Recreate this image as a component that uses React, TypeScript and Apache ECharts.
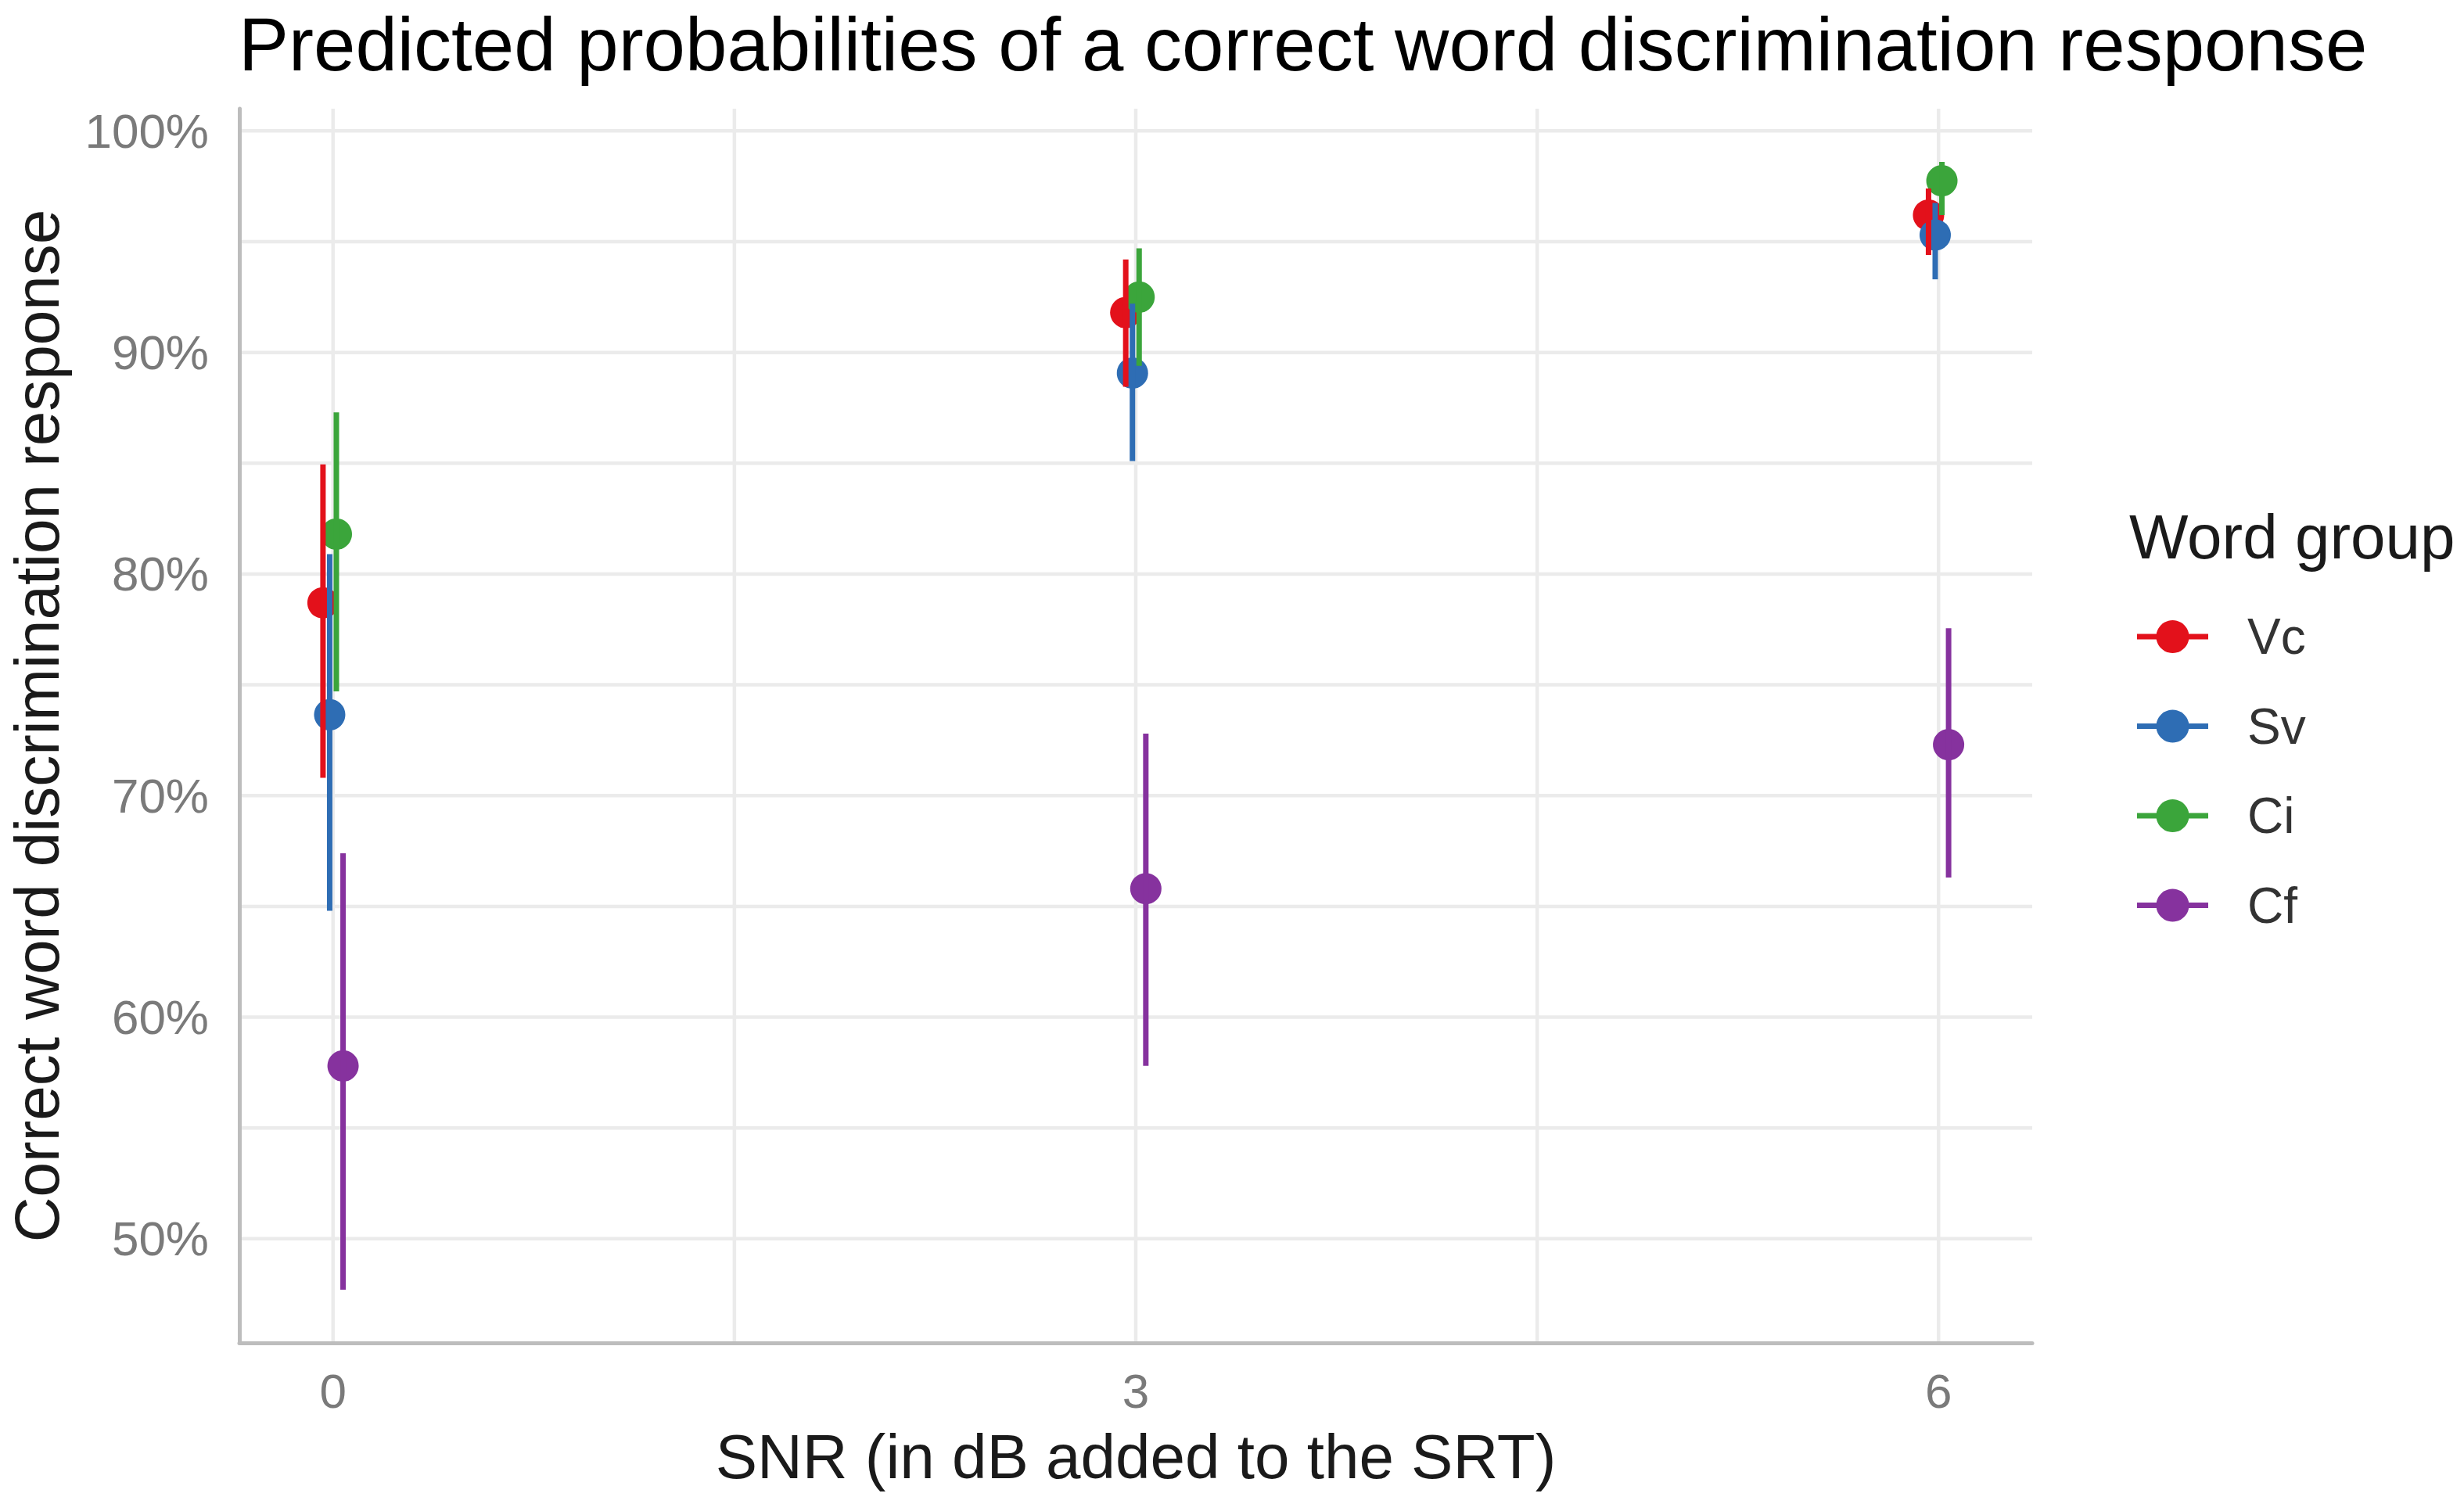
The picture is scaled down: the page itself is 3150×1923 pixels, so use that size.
import React, { useEffect, useRef } from "react";
import * as echarts from "echarts";

// ---- data ----
const snrLevels = [0, 3, 6];
const groupNames = ["Vc", "Sv", "Ci", "Cf"];
const groupColors = ["#E3111B", "#2E6DB4", "#3BA53B", "#86329E"];

const vcMean = [78.7, 91.8, 96.2];
const vcLow = [70.8, 88.45, 94.4];
const vcHigh = [84.95, 94.2, 97.4];

const svMean = [73.65, 89.07, 95.3];
const svLow = [64.8, 85.1, 93.3];
const svHigh = [80.9, 92.2, 96.75];

const ciMean = [81.8, 92.5, 97.75];
const ciLow = [74.7, 89.4, 96.2];
const ciHigh = [87.3, 94.7, 98.6];

const cfMean = [57.8, 65.8, 72.3];
const cfLow = [47.7, 57.8, 66.3];
const cfHigh = [67.4, 72.8, 77.55];

const yMajorTicks = [50, 60, 70, 80, 90, 100];
const yMinorTicks = [55, 65, 75, 85, 95];
const xMajorTicks = [0, 3, 6];
const xMinorTicks = [1.5, 4.5];

const titleText = "Predicted probabilities of a correct word discrimination response";
const xTitle = "SNR (in dB added to the SRT)";
const yTitle = "Correct word discrimination response";
const legendTitle = "Word group";

const dodgeWidth = 0.1;

const means = [vcMean, svMean, ciMean, cfMean];
const lows = [vcLow, svLow, ciLow, cfLow];
const highs = [vcHigh, svHigh, ciHigh, cfHigh];

const FONT = '"Liberation Sans", Arial, Helvetica, sans-serif';

function dodgeOffset(i: number, n: number) {
  return (i - (n - 1) / 2) * (dodgeWidth / n);
}

export default function App() {
  const ref = useRef<HTMLDivElement>(null);

  useEffect(() => {
    if (!ref.current) return;
    const chart = echarts.init(ref.current, null, { renderer: "svg" });
    const n = groupNames.length;

    const gridColor = "#EBEBEB";

    const hGridSeries = {
      type: "custom",
      silent: true,
      z: 1,
      clip: false,
      data: [...yMajorTicks, ...yMinorTicks].map((v) => [0, v]),
      encode: { x: 0, y: 1 },
      renderItem: (params: any, api: any) => {
        const cs = params.coordSys;
        const y = api.coord([0, api.value(1)])[1];
        return {
          type: "line",
          shape: { x1: cs.x, y1: y, x2: cs.x + cs.width, y2: y },
          style: { stroke: gridColor, lineWidth: 4.5 },
        };
      },
    };

    const vGridSeries = {
      type: "custom",
      silent: true,
      z: 1,
      clip: false,
      data: [...xMajorTicks, ...xMinorTicks].map((v) => [v, 50]),
      encode: { x: 0, y: 1 },
      renderItem: (params: any, api: any) => {
        const cs = params.coordSys;
        const x = api.coord([api.value(0), 50])[0];
        return {
          type: "line",
          shape: { x1: x, y1: cs.y, x2: x, y2: cs.y + cs.height },
          style: { stroke: gridColor, lineWidth: 4.5 },
        };
      },
    };

    const pointSeries = groupNames.map((name, gi) => ({
      type: "scatter",
      name,
      silent: true,
      z: 2,
      symbol: "circle",
      symbolSize: 40,
      itemStyle: { color: groupColors[gi], opacity: 1 },
      data: snrLevels.map((x, i) => [x + dodgeOffset(gi, n), means[gi][i]]),
    }));

    const rangeSeries = groupNames.map((name, gi) => ({
      type: "custom",
      name: name + " interval",
      silent: true,
      z: 3,
      data: snrLevels.map((x, i) => [x + dodgeOffset(gi, n), lows[gi][i], highs[gi][i]]),
      encode: { x: 0, y: [1, 2] },
      renderItem: (_params: any, api: any) => {
        const p1 = api.coord([api.value(0), api.value(1)]);
        const p2 = api.coord([api.value(0), api.value(2)]);
        return {
          type: "line",
          shape: { x1: p1[0], y1: p1[1], x2: p2[0], y2: p2[1] },
          style: { stroke: groupColors[gi], lineWidth: 7, lineCap: "butt" },
        };
      },
    }));

    // legend drawn as graphic (line + point + label)
    const legendX0 = 2732;
    const legendX1 = 2823;
    const legendTop = 814;
    const legendStep = 114.5;
    const legendGraphics: any[] = [
      {
        type: "text",
        x: 2722,
        y: 686,
        style: {
          text: legendTitle,
          font: `80px ${FONT}`,
          fill: "#1a1a1a",
          align: "left",
          verticalAlign: "middle",
        },
      },
    ];
    groupNames.forEach((name, gi) => {
      const yk = legendTop + gi * legendStep;
      legendGraphics.push({
        type: "line",
        shape: { x1: legendX0, y1: yk, x2: legendX1, y2: yk },
        style: { stroke: groupColors[gi], lineWidth: 7 },
      });
      legendGraphics.push({
        type: "circle",
        shape: { cx: (legendX0 + legendX1) / 2, cy: yk, r: 21 },
        style: { fill: groupColors[gi] },
      });
      legendGraphics.push({
        type: "text",
        x: 2873,
        y: yk,
        style: {
          text: name,
          font: `64px ${FONT}`,
          fill: "#333333",
          align: "left",
          verticalAlign: "middle",
        },
      });
    });

    const option: any = {
      animation: false,
      backgroundColor: "#ffffff",
      title: {
        text: titleText,
        left: 305,
        top: 8,
        padding: 0,
        textStyle: {
          fontFamily: FONT,
          fontSize: 96,
          lineHeight: 96,
          fontWeight: "normal",
          color: "#000000",
        },
      },
      grid: {
        left: 306,
        right: 552,
        top: 139,
        bottom: 206,
        containLabel: false,
        outerBoundsMode: "none",
      },
      xAxis: {
        type: "value",
        min: -0.35,
        max: 6.35,
        z: 4,
        axisLine: { show: true, onZero: false, lineStyle: { color: "#BDBDBD", width: 5 } },
        axisTick: { show: false },
        splitLine: { show: false },
        minorSplitLine: { show: false },
        axisLabel: {
          customValues: xMajorTicks,
          margin: 30,
          fontFamily: FONT,
          fontSize: 62,
          color: "#7a7a7a",
          formatter: (v: number) => String(v),
        },
      },
      yAxis: {
        type: "value",
        min: 45.3,
        max: 101.0,
        z: 4,
        axisLine: { show: true, onZero: false, lineStyle: { color: "#BDBDBD", width: 5 } },
        axisTick: { show: false },
        splitLine: { show: false },
        axisLabel: {
          customValues: yMajorTicks,
          margin: 39,
          fontFamily: FONT,
          fontSize: 62,
          color: "#7a7a7a",
          formatter: (v: number) => `${Math.round(v)}%`,
        },
      },
      graphic: [
        {
          type: "text",
          x: 1452,
          y: 1862,
          style: {
            text: xTitle,
            font: `80px ${FONT}`,
            fill: "#1a1a1a",
            align: "center",
            verticalAlign: "middle",
          },
        },
        {
          type: "text",
          x: 47,
          y: 928,
          rotation: Math.PI / 2,
          style: {
            text: yTitle,
            font: `80px ${FONT}`,
            lineHeight: 80,
            fill: "#1a1a1a",
            align: "center",
            verticalAlign: "middle",
          },
        },
        ...legendGraphics,
      ],
      series: [hGridSeries, vGridSeries, ...pointSeries, ...rangeSeries],
    };

    chart.setOption(option);
    return () => {
      chart.dispose();
    };
  }, []);

  return (
    <div
      ref={ref}
      style={{
        position: "fixed",
        left: 0,
        top: 0,
        width: 3150,
        height: 1923,
        background: "#ffffff",
      }}
    />
  );
}
